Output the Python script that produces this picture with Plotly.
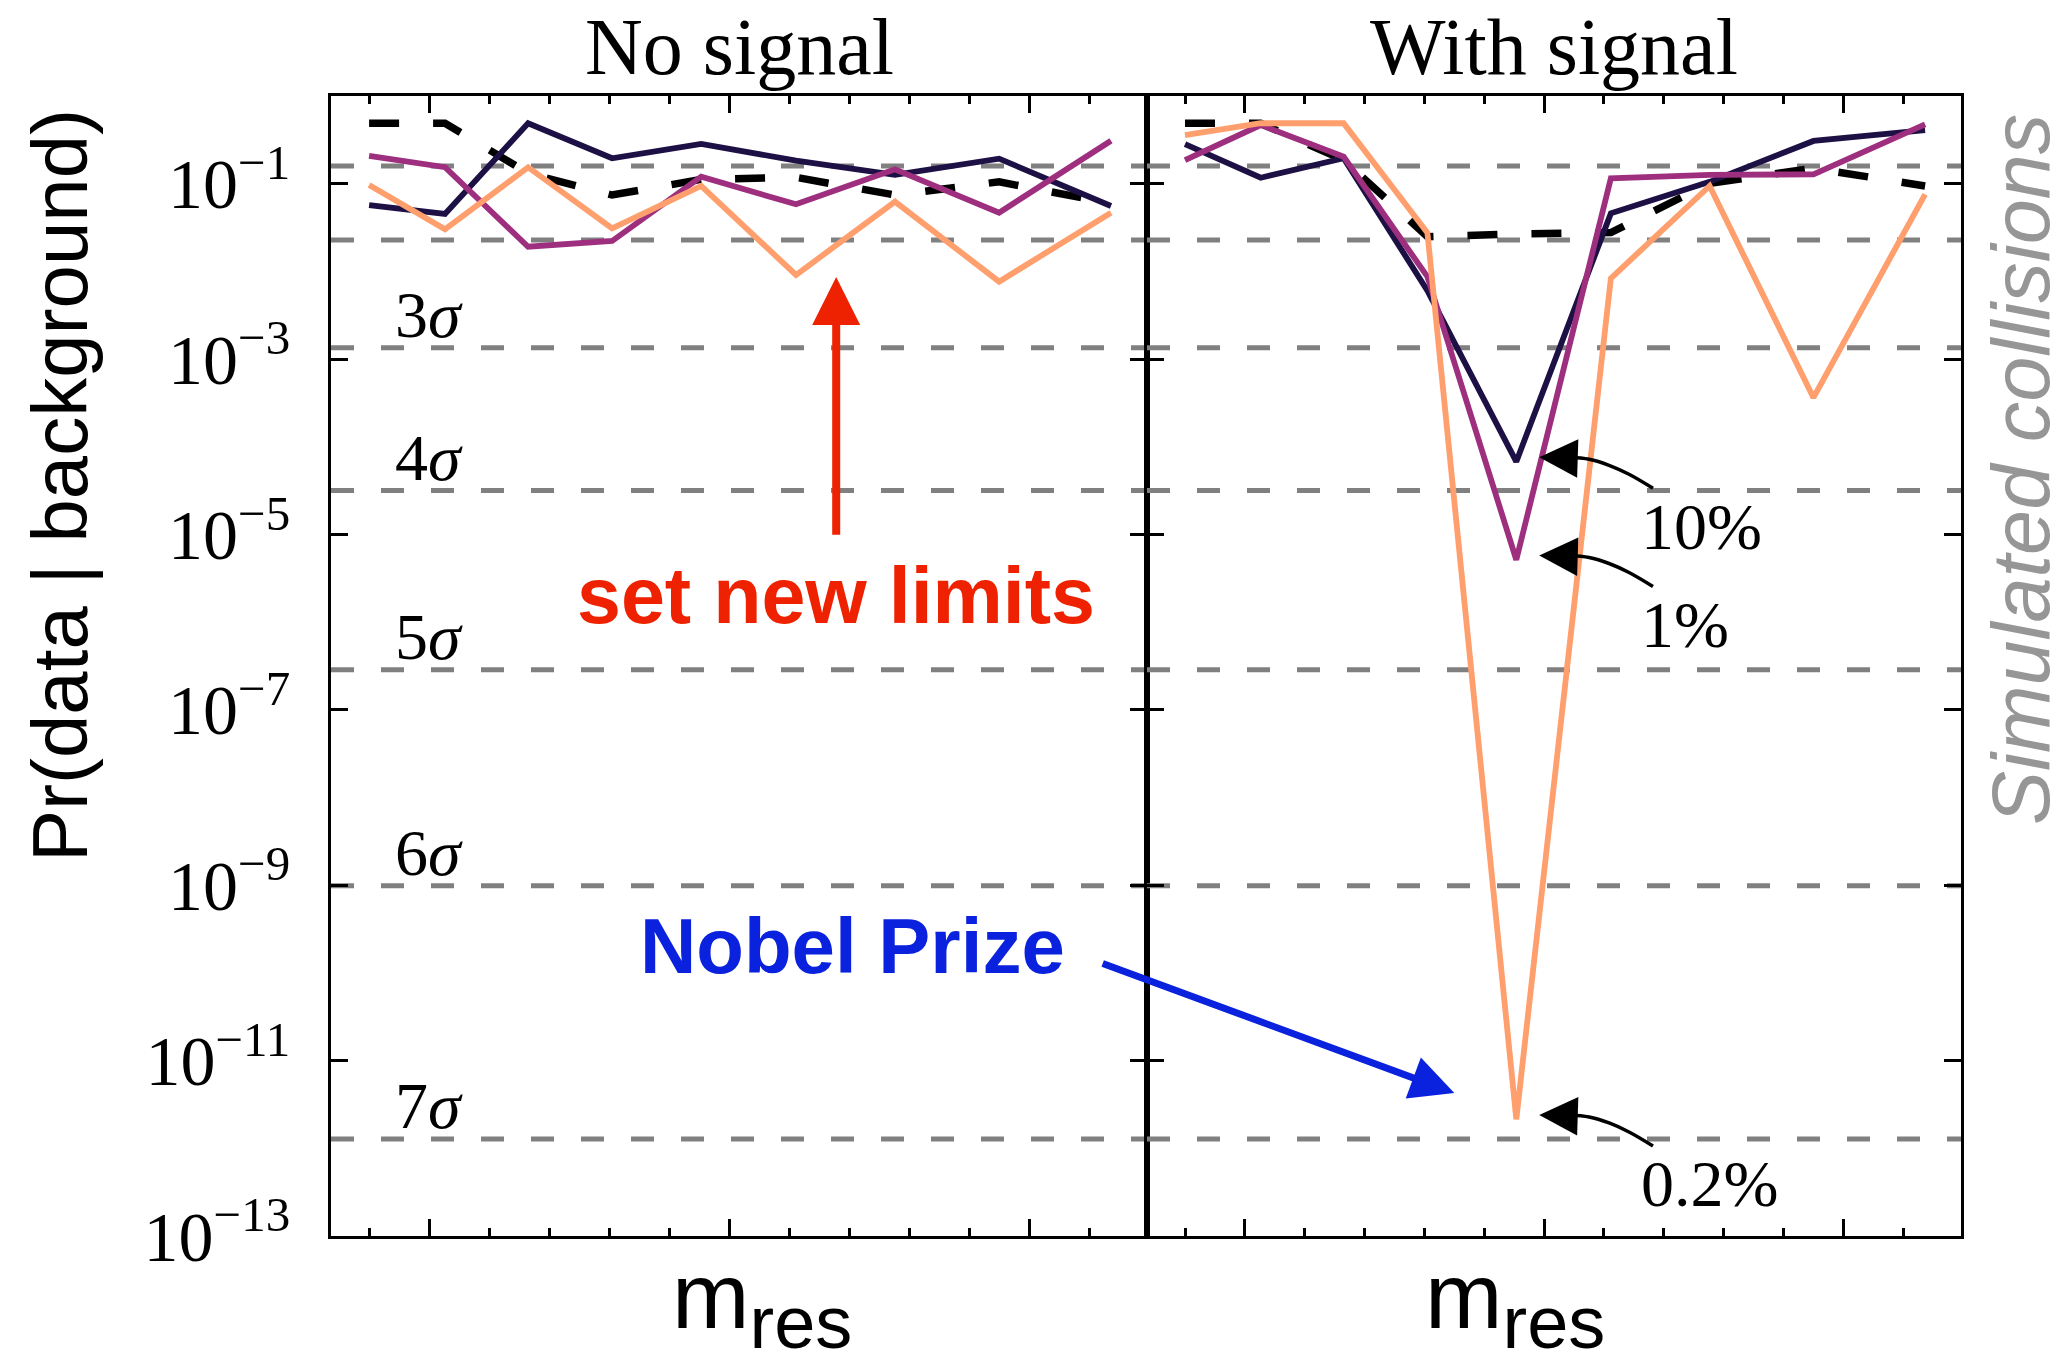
import plotly.graph_objects as go
import math

# ---------------- data ----------------
x_mass = [2.8, 3.053, 3.33, 3.61, 3.907, 4.223, 4.553, 4.9, 5.273]

# No signal panel
nosig_ref = [0.489, 0.489, 0.1315, 0.0743, 0.112, 0.118, 0.0743, 0.105, 0.0597]
nosig_10 = [0.0571, 0.0452, 0.489, 0.195, 0.284, 0.183, 0.126, 0.193, 0.0557]
nosig_1 = [0.207, 0.154, 0.0191, 0.0222, 0.120, 0.0582, 0.146, 0.0467, 0.309]
nosig_02 = [0.0966, 0.0302, 0.154, 0.031, 0.0942, 0.0091, 0.0624, 0.00764, 0.0467]

# With signal panel
sig_ref = [0.489, 0.489, 0.186, 0.0249, 0.0267, 0.0277, 0.101, 0.150, 0.0942]
sig_10 = [0.282, 0.117, 0.195, 6.03e-3, 6.76e-5, 0.0459, 0.105, 0.307, 0.409]
sig_1 = [0.186, 0.467, 0.203, 8.7e-3, 5.13e-6, 0.115, 0.126, 0.128, 0.475]
sig_02 = [0.359, 0.489, 0.489, 0.0275, 2.14e-12, 8.34e-3, 0.0942, 3.63e-4, 0.0757]

# significance levels (one-sided p-values)
sigma_n = [1, 2, 3, 4, 5, 6, 7]
sigma_p = [0.1587, 0.02275, 1.35e-3, 3.167e-5, 2.867e-7, 9.866e-10, 1.28e-12]
sigma_labels = ["", "", "3<i>σ</i>", "4<i>σ</i>", "5<i>σ</i>", "6<i>σ</i>", "7<i>σ</i>"]

y_tickvals = [1e-1, 1e-3, 1e-5, 1e-7, 1e-9, 1e-11, 1e-13]
y_ticktext = ["10<sup>−1</sup>", "10<sup>−3</sup>", "10<sup>−5</sup>", "10<sup>−7</sup>",
              "10<sup>−9</sup>", "10<sup>−11</sup>", "10<sup>−13</sup>"]
x_major = [3, 4, 5]
x_minor = [2.8, 3.2, 3.4, 3.6, 3.8, 4.2, 4.4, 4.6, 4.8, 5.2]

# ---------------- geometry / styles ----------------
W, H = 2061, 1353
OFF = 8                      # page body margin
REF_L, REF_T, REF_R, REF_B = 331, 96, 1961, 1236   # plot box in picture pixels
ML, MT = REF_L - OFF, REF_T - OFF
MR, MB = W - REF_R + OFF, H - REF_B + OFF
PLOT_W = REF_R - REF_L
PLOT_H = REF_B - REF_T
SPLIT = 816 / PLOT_W
XR = [2.673, 5.393]
YR = [-13, 0]
PX_PER_X = (SPLIT * PLOT_W) / (XR[1] - XR[0])
PX_PER_DEC = PLOT_H / (YR[1] - YR[0])


def px(xp):
    return (xp - REF_L) / PLOT_W


def py(yp):
    return 1 - (yp - REF_T) / PLOT_H


NAVY = "#1c1044"
PURPLE = "#9e2f7f"
ORANGE = "#fe9f6d"
SERIF = "Liberation Serif"
SANS = "Liberation Sans"
LW = 5.8

fig = go.Figure()

# sigma reference lines (drawn first, beneath everything)
for xa, ya in [("x", "y"), ("x2", "y2")]:
    for p in sigma_p:
        fig.add_trace(go.Scatter(x=XR, y=[p, p], mode="lines", xaxis=xa, yaxis=ya,
                                 line=dict(color="#808080", width=5, dash="23px,27px"),
                                 showlegend=False, hoverinfo="skip"))

panels = [
    ("x", "y", nosig_ref, nosig_10, nosig_1, nosig_02),
    ("x2", "y2", sig_ref, sig_10, sig_1, sig_02),
]
for xa, ya, ref, s10, s1, s02 in panels:
    fig.add_trace(go.Scatter(x=x_mass, y=ref, mode="lines", xaxis=xa, yaxis=ya,
                             line=dict(color="black", width=7.5, dash="30px,34px"),
                             showlegend=False, hoverinfo="skip"))
    fig.add_trace(go.Scatter(x=x_mass, y=s10, mode="lines", xaxis=xa, yaxis=ya,
                             line=dict(color=NAVY, width=LW), showlegend=False))
    fig.add_trace(go.Scatter(x=x_mass, y=s1, mode="lines", xaxis=xa, yaxis=ya,
                             line=dict(color=PURPLE, width=LW), showlegend=False))
    fig.add_trace(go.Scatter(x=x_mass, y=s02, mode="lines", xaxis=xa, yaxis=ya,
                             line=dict(color=ORANGE, width=LW), showlegend=False))

annotations = []
# sigma labels
for lab, p in zip(sigma_labels, sigma_p):
    if lab:
        annotations.append(dict(text=lab, x=3.0, y=math.log10(p), xref="x", yref="y",
                                showarrow=False, yshift=33, xanchor="center", yanchor="middle",
                                font=dict(family=SERIF, size=66, color="black")))

# titles
for cxp, t in [(SPLIT / 2, "No signal"), ((1 + SPLIT) / 2, "With signal")]:
    annotations.append(dict(text=t, x=cxp, y=py(47), xref="paper", yref="paper",
                            showarrow=False, xanchor="center", yanchor="middle",
                            font=dict(family=SERIF, size=80, color="black")))

# y title
annotations.append(dict(text="Pr(data | background)", x=px(60), y=py(486),
                        xref="paper", yref="paper", showarrow=False, textangle=-90,
                        xanchor="center", yanchor="middle",
                        font=dict(family=SANS, size=78, color="black")))
# right side text
annotations.append(dict(text="<i>Simulated collisions</i>", x=px(2021), y=py(470),
                        xref="paper", yref="paper", showarrow=False, textangle=-90,
                        xanchor="center", yanchor="middle",
                        font=dict(family=SANS, size=81, color="#969696")))
# x labels
for cx in [762, 1515]:
    annotations.append(dict(text="m<sub><span style='font-size:74px'>res</span></sub>",
                            x=px(cx), y=py(1304),
                            xref="paper", yref="paper", showarrow=False,
                            xanchor="center", yanchor="middle",
                            font=dict(family=SANS, size=93, color="black")))

# red arrow + text
annotations.append(dict(text="", x=4.357, y=-2.064, xref="x", yref="y",
                        ax=4.357, ay=-5.02, axref="x", ayref="y", showarrow=True,
                        arrowhead=2, arrowsize=1.2, arrowwidth=8, arrowcolor="#ee2200"))
annotations.append(dict(text="<b>set new limits</b>", x=4.357, y=-5.70, xref="x", yref="y",
                        showarrow=False, xanchor="center", yanchor="middle",
                        font=dict(family=SANS, size=79, color="#ee2200")))
# blue arrow + text
annotations.append(dict(text="<b>Nobel Prize</b>", x=4.41, y=-9.69, xref="x", yref="y",
                        showarrow=False, xanchor="center", yanchor="middle",
                        font=dict(family=SANS, size=78, color="#0a22dd")))
annotations.append(dict(text="", x=3.70, y=-11.37, xref="x2", yref="y2",
                        ax=2.52, ay=-9.886, axref="x2", ayref="y2", showarrow=True,
                        arrowhead=2, arrowsize=1.25, arrowwidth=7, arrowcolor="#0a22dd"))

# curved black arrows to the minima
curve_offsets = [(30, 0), (50, 2), (70, 8), (90, 17), (114, 31)]
for series, lab in [(sig_10, "10%"), (sig_1, "1%"), (sig_02, "0.2%")]:
    i_min = series.index(min(series))
    xt = x_mass[i_min] + 23 / PX_PER_X
    lt = math.log10(series[i_min]) + 0.05
    cx = [xt + dx / PX_PER_X for dx, dy in curve_offsets]
    cy = [10 ** (lt - dy / PX_PER_DEC) for dx, dy in curve_offsets]
    fig.add_trace(go.Scatter(x=cx, y=cy, mode="lines", xaxis="x2", yaxis="y2",
                             line=dict(color="black", width=3.5, shape="spline"),
                             showlegend=False, hoverinfo="skip"))
    annotations.append(dict(text="", x=xt, y=lt, xref="x2", yref="y2", ax=32, ay=1,
                            showarrow=True, arrowhead=2, arrowsize=2.2, arrowwidth=3.5,
                            arrowcolor="black"))
    annotations.append(dict(text=lab, x=xt, y=lt, xref="x2", yref="y2", showarrow=False,
                            xshift=100, yshift=-69, xanchor="left", yanchor="middle",
                            font=dict(family=SERIF, size=66, color="black")))

axis_common = dict(showline=True, linecolor="black", linewidth=2.5, mirror="allticks",
                   ticks="inside", tickcolor="black", tickwidth=3, showgrid=False, zeroline=False)

xaxis_style = dict(axis_common, range=XR, tickvals=x_major, ticklen=17, showticklabels=False,
                   minor=dict(tickvals=x_minor, ticks="inside", ticklen=8, tickwidth=2.5,
                              tickcolor="black", showgrid=False))
yaxis_style = dict(axis_common, type="log", range=YR, tickvals=y_tickvals, ticktext=y_ticktext,
                   ticklen=17, tickfont=dict(family=SERIF, size=70, color="black"),
                   ticklabelstandoff=24)

fig.update_layout(
    width=W, height=H, autosize=False,
    margin=dict(l=ML, r=MR, t=MT, b=MB, autoexpand=False),
    paper_bgcolor="white", plot_bgcolor="white",
    showlegend=False,
    xaxis=dict(xaxis_style, domain=[0, SPLIT], anchor="y"),
    xaxis2=dict(xaxis_style, domain=[SPLIT, 1], anchor="y2"),
    yaxis=dict(yaxis_style, domain=[0, 1], anchor="x"),
    yaxis2=dict(yaxis_style, domain=[0, 1], anchor="x2", showticklabels=False),
    annotations=annotations,
)

fig.write_html("out.html")
